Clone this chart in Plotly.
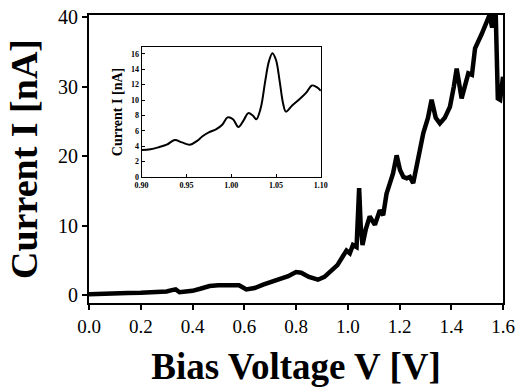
import plotly.graph_objects as go

# Main I-V curve
voltage = [0.00, 0.05, 0.10, 0.15, 0.20, 0.25, 0.30, 0.32, 0.335, 0.35, 0.40, 0.43, 0.466,
           0.50, 0.55, 0.58, 0.608, 0.64, 0.673, 0.70, 0.737, 0.77, 0.80, 0.82, 0.85, 0.885,
           0.91, 0.943, 0.96, 0.98, 0.995, 1.008, 1.02, 1.034, 1.044, 1.050, 1.057, 1.07,
           1.085, 1.105, 1.124, 1.137, 1.15, 1.163, 1.175, 1.189, 1.202, 1.215, 1.228, 1.24,
           1.253, 1.279, 1.292, 1.31, 1.324, 1.34, 1.356, 1.375, 1.395, 1.41, 1.421, 1.44,
           1.466, 1.48, 1.492, 1.518, 1.537, 1.548, 1.558, 1.566, 1.572, 1.576, 1.58,
           1.589, 1.60]
current = [0.1, 0.2, 0.25, 0.3, 0.33, 0.4, 0.5, 0.7, 0.8, 0.4, 0.6, 0.9, 1.3,
           1.4, 1.45, 1.4, 0.8, 1.0, 1.5, 1.8, 2.2, 2.7, 3.3, 3.2, 2.6, 2.2,
           2.6, 3.6, 4.3, 5.5, 6.4, 6.0, 7.2, 6.9, 15.4, 10.0, 7.2, 9.5,
           11.3, 10.1, 12.2, 11.5, 14.6, 16.1, 17.5, 20.1, 18.0, 17.0, 16.8, 17.0,
           16.1, 20.9, 23.3, 25.5, 28.1, 25.5, 24.7, 25.5, 27.1, 30.0, 32.6, 28.3,
           31.9, 31.7, 35.5, 37.6, 39.6, 40.3, 38.5, 40.5, 40.3, 33.0, 28.3,
           28.1, 31.4]

# Inset (zoom 0.90 - 1.10 V)
inset_v = [0.900, 0.910, 0.920, 0.928, 0.937, 0.945, 0.954, 0.962, 0.968, 0.975, 0.983,
           0.990, 0.996, 1.002, 1.008, 1.014, 1.019, 1.024, 1.028, 1.033, 1.038, 1.042,
           1.046, 1.050, 1.054, 1.058, 1.061, 1.068, 1.077, 1.084, 1.090, 1.095, 1.100]
inset_i = [3.5, 3.6, 3.9, 4.2, 4.8, 4.5, 4.2, 4.7, 5.3, 5.8, 6.2,
           6.8, 7.75, 7.5, 6.5, 7.4, 8.3, 8.0, 7.5, 9.0, 12.5, 15.0,
           16.1, 15.2, 12.5, 9.5, 8.5, 9.3, 10.2, 11.0, 11.9, 11.7, 11.2]

main_xticks = [0.0, 0.2, 0.4, 0.6, 0.8, 1.0, 1.2, 1.4, 1.6]
main_yticks = [0, 10, 20, 30, 40]
inset_xticks = [0.90, 0.95, 1.00, 1.05, 1.10]
inset_yticks = [0, 2, 4, 6, 8, 10, 12, 14, 16]

serif = "Liberation Serif"

fig = go.Figure()
fig.add_trace(go.Scatter(x=voltage, y=current, mode="lines",
                         line=dict(color="black", width=4.5), showlegend=False))
fig.add_trace(go.Scatter(x=inset_v, y=inset_i, mode="lines", xaxis="x2", yaxis="y2",
                         line=dict(color="black", width=2, shape="spline"), showlegend=False))

fig.update_layout(
    width=516, height=387,
    margin=dict(l=89, r=13, t=15, b=84, autoexpand=False),
    paper_bgcolor="white", plot_bgcolor="white",
    font=dict(family=serif, color="black"),
    xaxis=dict(range=[0, 1.6], tickvals=main_xticks, ticktext=[f"{v:.1f}" for v in main_xticks],
               ticks="outside", ticklen=5, tickwidth=1.5, tickcolor="black",
               showline=True, linecolor="black", linewidth=2, mirror=True,
               showgrid=False, zeroline=False, automargin=False,
               ticklabeloverflow="allow",
               tickfont=dict(family=serif, size=19, color="black"),
               title=dict(text="<b>Bias Voltage V [V]</b>",
                          font=dict(family=serif, size=37, color="black"),
                          standoff=26)),
    yaxis=dict(range=[-1.15, 40.3], tickvals=main_yticks,
               ticks="outside", ticklen=5, tickwidth=1.5, tickcolor="black",
               showline=True, linecolor="black", linewidth=2, mirror=True,
               showgrid=False, zeroline=False, automargin=False,
               ticklabeloverflow="allow",
               tickfont=dict(family=serif, size=20, color="black"),
               title=dict(text="<b>Current I [nA]</b>",
                          font=dict(family=serif, size=38, color="black"),
                          standoff=9)),
    xaxis2=dict(domain=[0.127, 0.560], anchor="y2", range=[0.9, 1.1],
                tickvals=inset_xticks, ticktext=[f"<b>{v:.2f}</b>" for v in inset_xticks],
                ticks="inside", ticklen=3, tickcolor="black",
                showline=True, linecolor="black", linewidth=1, mirror=True,
                showgrid=False, zeroline=False, automargin=False,
                tickfont=dict(family=serif, size=8, color="black")),
    yaxis2=dict(domain=[0.4375, 0.889], anchor="x2", range=[0, 16.9],
                tickvals=inset_yticks, ticktext=[f"<b>{v}</b>" for v in inset_yticks],
                ticks="inside", ticklen=3, tickcolor="black",
                showline=True, linecolor="black", linewidth=1, mirror=True,
                showgrid=False, zeroline=False, automargin=False,
                tickfont=dict(family=serif, size=8, color="black"),
                title=dict(text="<b>Current I [nA]</b>",
                           font=dict(family=serif, size=14, color="black"),
                           standoff=5)),
)

# remove the browser's default 8px body margin so the figure fills the window exactly
fig.write_html("out.html", config={"displayModeBar": False},
               post_script="document.body.style.margin='0';document.body.style.overflow='hidden';")
